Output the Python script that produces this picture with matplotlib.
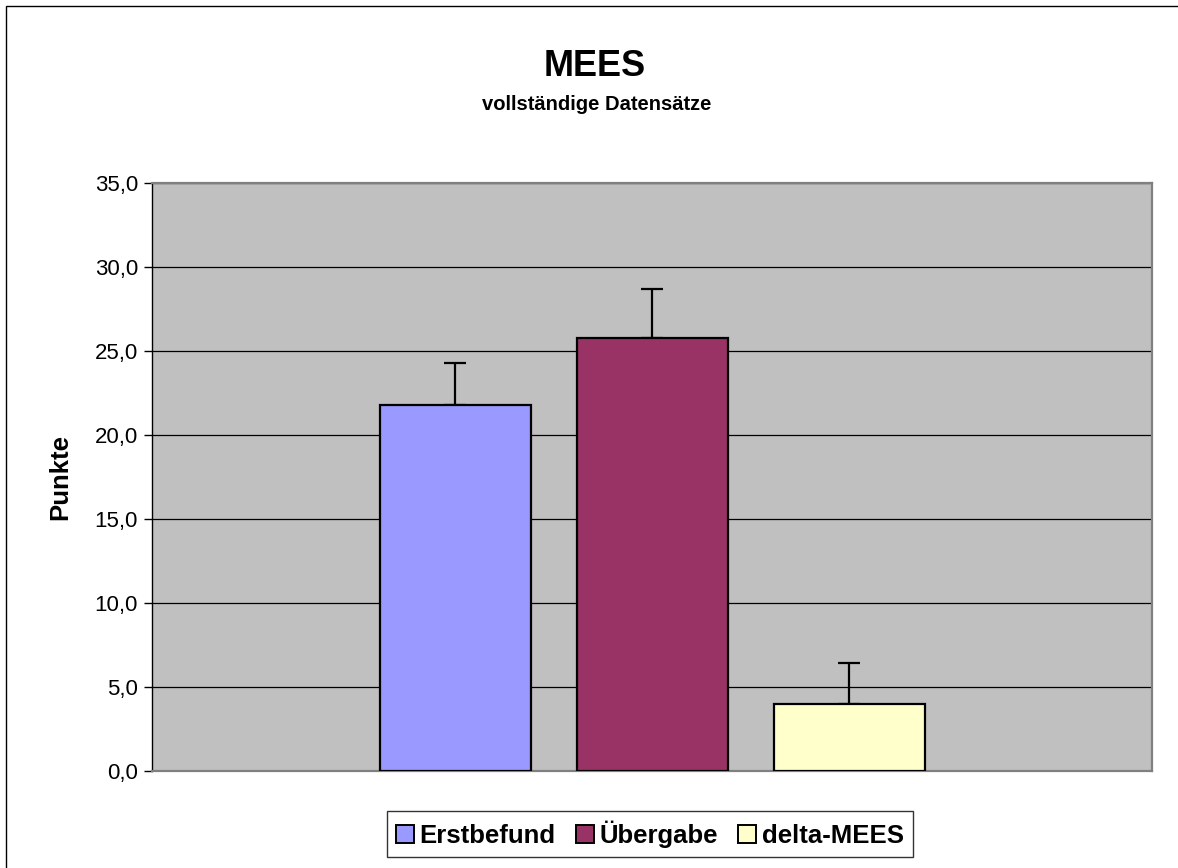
import numpy as np
import matplotlib.pyplot as plt
from matplotlib.patches import Rectangle, Patch

series = ['Erstbefund', 'Übergabe', 'delta-MEES']
values = [21.8, 25.8, 4.0]
errors = [2.5, 2.9, 2.4]
colors = ['#9999FF', '#993366', '#FFFFCC']
yticks = [0, 5, 10, 15, 20, 25, 30, 35]

plt.rcParams['font.family'] = ['Liberation Sans', 'DejaVu Sans']

W, H = 1178, 868
fig = plt.figure(figsize=(W / 100, H / 100), dpi=100)

# outer chart frame (cut off on right/bottom like the source)
fig.patches.append(Rectangle((6 / W, -0.1), 1.2, 1.1 - 6 / H,
                             transform=fig.transFigure, fill=False,
                             edgecolor='black', linewidth=1.0))

ax = fig.add_axes([152 / W, 1 - 771 / H, 1000 / W, (771 - 183) / H])
ax.set_facecolor('#C0C0C0')

pos = [0.5 - 0.197, 0.5, 0.5 + 0.197]
for i in range(len(series)):
    ax.bar(pos[i], values[i], width=0.151, color=colors[i], edgecolor='black',
           linewidth=1.6, zorder=3)
    ax.errorbar(pos[i], values[i], yerr=[[0], [errors[i]]], fmt='none',
                ecolor='black', elinewidth=1.6, capsize=8, capthick=1.6, zorder=2)

ax.set_xlim(0, 1)
ax.set_ylim(0, 35)
ax.set_yticks(yticks)
ax.set_yticklabels([('%.1f' % t).replace('.', ',') for t in yticks], fontsize=16)
ax.tick_params(axis='y', length=6, width=1, direction='out', pad=4)
ax.set_xticks([])
ax.yaxis.grid(True, color='black', linewidth=0.9)
ax.set_axisbelow(True)
for s in ['top', 'right', 'bottom']:
    ax.spines[s].set_color('#808080')
    ax.spines[s].set_linewidth(1.6)
ax.spines['left'].set_color('black')
ax.spines['left'].set_linewidth(1.0)

ax.set_ylabel('Punkte', fontsize=18.5, fontweight='bold', labelpad=16)

fig.text(595 / W, 1 - 67 / H, 'MEES', ha='center', va='center',
         fontsize=26, fontweight='bold')
fig.text(597 / W, 1 - 104 / H, 'vollständige Datensätze', ha='center',
         va='center', fontsize=14.5, fontweight='bold')

handles = [Patch(facecolor=colors[i], edgecolor='black', linewidth=1.4)
           for i in range(len(series))]
leg = fig.legend(handles, series, loc='center', bbox_to_anchor=(650 / W, 1 - 834 / H),
                 ncol=3, frameon=True, fancybox=False, edgecolor='black',
                 prop={'size': 18.5, 'weight': 'bold'}, handlelength=0.7,
                 handleheight=0.7, handletextpad=0.2, columnspacing=0.8,
                 borderpad=0.35, borderaxespad=0)
leg.get_frame().set_linewidth(1.0)

fig.savefig('out.png', dpi=100)
